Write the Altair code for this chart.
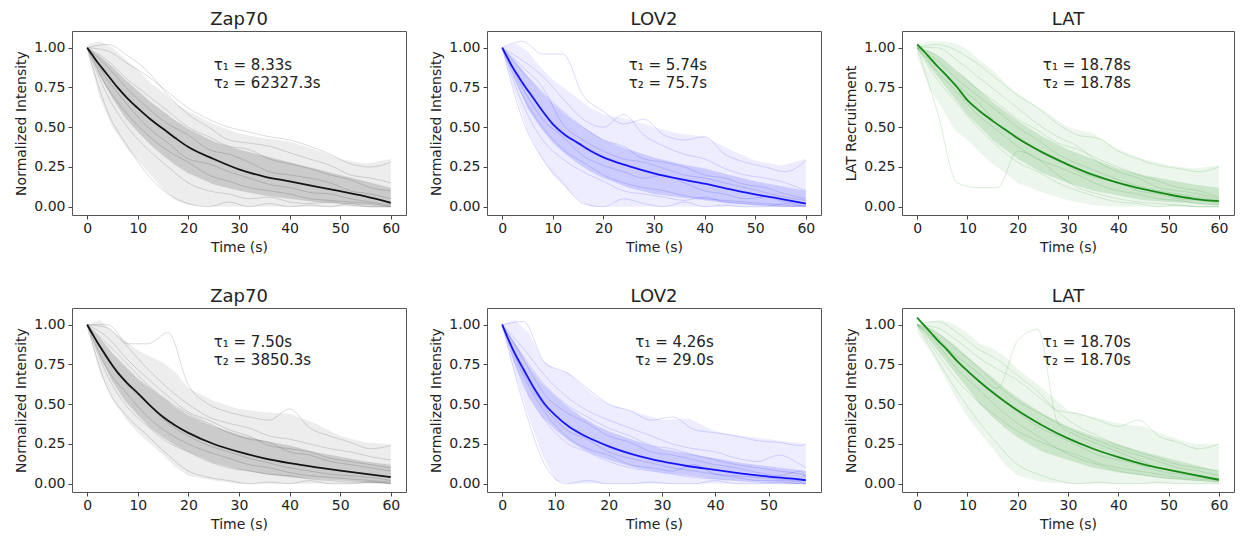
import altair as alt
import pandas as pd

FONT = "DejaVu Sans"

# ---------------- time grids ----------------
T_FIT = [0, 1, 2, 3, 4, 6, 8, 10, 12.5, 15, 17.5, 20, 25, 30, 35, 40, 45, 50, 55, 60]
T_FIT_E = [0, 1, 2, 3, 4, 6, 8, 10, 12.5, 15, 17.5, 20, 25, 30, 35, 40, 45, 50, 55, 57]
T_BAND = [0, 2.5, 5, 7.5, 10, 12.5, 15, 17.5, 20, 25, 30, 35, 40, 45, 50, 55, 60]
T_BAND_E = [0, 2.5, 5, 7.5, 10, 12.5, 15, 17.5, 20, 25, 30, 35, 40, 45, 50, 55, 57]
T_TR = [0, 4, 8, 12, 16, 20, 24, 28, 32, 36, 40, 44, 48, 52, 56, 60]
T_TR_E = [0, 4, 8, 12, 16, 20, 24, 28, 32, 36, 40, 44, 48, 52, 56, 57]

Y_TICKS = [0.0, 0.25, 0.5, 0.75, 1.0]
X_TICKS = [0, 10, 20, 30, 40, 50, 60]
X_TICKS_E = [0, 10, 20, 30, 40, 50]

TITLES = ["Zap70", "LOV2", "LAT", "Zap70", "LOV2", "LAT"]
Y_LABELS = ["Normalized Intensity", "Normalized Intensity", "LAT Recruitment",
            "Normalized Intensity", "Normalized Intensity", "Normalized Intensity"]
TAU1 = ["8.33", "5.74", "18.78", "7.50", "4.26", "18.70"]
TAU2 = ["62327.3", "75.7", "18.78", "3850.3", "29.0", "18.70"]
COLORS = ["#000000", "#0000ff", "#008000", "#000000", "#0000ff", "#008000"]

# ---------------- Panel A : Zap70 (top) ----------------
FIT_A = [1.0, 0.955, 0.91, 0.87, 0.83, 0.75, 0.68, 0.62, 0.55, 0.49, 0.43, 0.375, 0.30, 0.235, 0.19, 0.16, 0.128, 0.098, 0.065, 0.025]
OHI_A = [1.02, 1.04, 1.0, 0.93, 0.86, 0.78, 0.72, 0.65, 0.6, 0.52, 0.46, 0.43, 0.41, 0.36, 0.3, 0.27, 0.3]
OLO_A = [0.97, 0.68, 0.5, 0.38, 0.29, 0.2, 0.11, 0.04, 0.01, 0, 0, 0, 0, 0, 0, 0, 0]
IHI_A = [1.0, 0.95, 0.88, 0.8, 0.73, 0.66, 0.6, 0.54, 0.49, 0.41, 0.36, 0.32, 0.28, 0.24, 0.2, 0.16, 0.12]
ILO_A = [1.0, 0.82, 0.68, 0.56, 0.47, 0.39, 0.32, 0.26, 0.21, 0.14, 0.1, 0.07, 0.05, 0.03, 0.02, 0.01, 0.0]
TR_A = [
    [1.0, 0.98, 0.9, 0.82, 0.72, 0.62, 0.55, 0.5, 0.47, 0.44, 0.42, 0.38, 0.33, 0.27, 0.25, 0.28],
    [1.0, 0.6, 0.38, 0.2, 0.08, 0.02, 0.0, 0.03, 0.0, 0.02, 0.0, 0.01, 0.0, 0.02, 0.0, 0.0],
    [1.0, 0.92, 0.8, 0.7, 0.6, 0.5, 0.44, 0.38, 0.36, 0.3, 0.27, 0.24, 0.2, 0.17, 0.12, 0.1],
    [1.0, 0.75, 0.58, 0.45, 0.35, 0.28, 0.2, 0.16, 0.12, 0.1, 0.08, 0.05, 0.04, 0.03, 0.02, 0.0],
    [1.0, 0.88, 0.74, 0.62, 0.52, 0.45, 0.36, 0.33, 0.28, 0.22, 0.2, 0.18, 0.15, 0.1, 0.08, 0.05],
    [1.0, 0.8, 0.64, 0.5, 0.4, 0.3, 0.27, 0.22, 0.18, 0.14, 0.12, 0.09, 0.08, 0.05, 0.03, 0.01],
    [1.0, 1.02, 0.95, 0.85, 0.7, 0.58, 0.5, 0.42, 0.4, 0.38, 0.34, 0.3, 0.26, 0.2, 0.18, 0.15],
    [1.0, 0.7, 0.5, 0.36, 0.25, 0.15, 0.1, 0.08, 0.05, 0.06, 0.03, 0.02, 0.03, 0.01, 0.0, 0.0],
]

# ---------------- Panel B : LOV2 (top) ----------------
FIT_B = [1.0, 0.94, 0.88, 0.83, 0.78, 0.69, 0.60, 0.52, 0.45, 0.40, 0.35, 0.31, 0.255, 0.21, 0.175, 0.145, 0.11, 0.077, 0.05, 0.02]
OHI_B = [1.0, 1.03, 0.98, 0.88, 0.8, 0.74, 0.68, 0.62, 0.58, 0.55, 0.5, 0.46, 0.44, 0.36, 0.29, 0.26, 0.3]
OLO_B = [0.98, 0.72, 0.48, 0.32, 0.2, 0.12, 0.04, 0.0, 0, 0, 0, 0, 0, 0, 0, 0, 0]
IHI_B = [1.0, 0.92, 0.82, 0.73, 0.65, 0.58, 0.52, 0.47, 0.42, 0.36, 0.31, 0.27, 0.24, 0.2, 0.16, 0.13, 0.1]
ILO_B = [1.0, 0.8, 0.62, 0.5, 0.4, 0.33, 0.27, 0.22, 0.18, 0.12, 0.08, 0.06, 0.04, 0.02, 0.01, 0.0, 0.0]
TR_B = [
    [1.0, 1.04, 0.96, 0.96, 0.7, 0.6, 0.52, 0.55, 0.45, 0.42, 0.44, 0.33, 0.28, 0.25, 0.22, 0.29],
    [1.0, 0.55, 0.3, 0.15, 0.02, 0.0, 0.05, 0.02, 0.0, 0.03, 0.0, 0.01, 0.0, 0.0, 0.02, 0.0],
    [1.0, 0.85, 0.72, 0.6, 0.5, 0.42, 0.38, 0.3, 0.28, 0.25, 0.2, 0.18, 0.14, 0.12, 0.08, 0.05],
    [1.0, 0.7, 0.5, 0.36, 0.28, 0.2, 0.15, 0.12, 0.1, 0.07, 0.05, 0.04, 0.03, 0.02, 0.01, 0.0],
    [1.0, 0.92, 0.82, 0.68, 0.55, 0.5, 0.58, 0.45, 0.38, 0.33, 0.3, 0.24, 0.2, 0.18, 0.15, 0.1],
    [1.0, 0.75, 0.55, 0.44, 0.32, 0.26, 0.22, 0.18, 0.2, 0.15, 0.1, 0.08, 0.05, 0.06, 0.03, 0.02],
    [1.0, 0.88, 0.75, 0.52, 0.42, 0.35, 0.3, 0.28, 0.24, 0.2, 0.18, 0.15, 0.12, 0.09, 0.06, 0.04],
    [1.0, 0.65, 0.42, 0.3, 0.22, 0.16, 0.1, 0.08, 0.06, 0.04, 0.06, 0.03, 0.02, 0.01, 0.0, 0.01],
]

# ---------------- Panel C : LAT (top) ----------------
FIT_C = [1.02, 0.99, 0.955, 0.92, 0.885, 0.82, 0.75, 0.67, 0.60, 0.54, 0.485, 0.43, 0.34, 0.265, 0.20, 0.15, 0.11, 0.077, 0.05, 0.035]
OHI_C = [1.03, 1.04, 1.04, 1.03, 0.99, 0.92, 0.86, 0.78, 0.71, 0.61, 0.5, 0.46, 0.36, 0.3, 0.26, 0.24, 0.26]
OLO_C = [0.95, 0.74, 0.62, 0.48, 0.42, 0.34, 0.27, 0.21, 0.15, 0.09, 0.04, 0.01, 0, 0, 0, 0, 0]
IHI_C = [1.0, 0.98, 0.93, 0.86, 0.8, 0.73, 0.66, 0.6, 0.54, 0.44, 0.36, 0.3, 0.24, 0.2, 0.17, 0.14, 0.12]
ILO_C = [1.0, 0.88, 0.78, 0.68, 0.58, 0.5, 0.42, 0.36, 0.3, 0.21, 0.15, 0.1, 0.07, 0.04, 0.03, 0.02, 0.01]
TR_C = [
    [1.0, 1.02, 0.98, 0.9, 0.8, 0.7, 0.62, 0.52, 0.45, 0.43, 0.35, 0.3, 0.26, 0.24, 0.22, 0.25],
    [1.0, 0.6, 0.15, 0.12, 0.12, 0.35, 0.3, 0.2, 0.12, 0.08, 0.05, 0.03, 0.02, 0.01, 0.0, 0.0],
    [1.0, 0.92, 0.8, 0.7, 0.6, 0.5, 0.42, 0.33, 0.27, 0.22, 0.17, 0.13, 0.1, 0.08, 0.06, 0.04],
    [1.0, 0.8, 0.65, 0.5, 0.38, 0.28, 0.22, 0.15, 0.1, 0.06, 0.03, 0.02, 0.0, 0.01, 0.0, 0.0],
    [1.0, 0.95, 0.85, 0.74, 0.65, 0.55, 0.48, 0.4, 0.36, 0.3, 0.25, 0.2, 0.16, 0.12, 0.1, 0.06],
    [1.0, 0.85, 0.72, 0.58, 0.48, 0.38, 0.3, 0.25, 0.2, 0.14, 0.1, 0.08, 0.05, 0.04, 0.02, 0.01],
    [1.0, 1.0, 0.92, 0.82, 0.72, 0.62, 0.52, 0.44, 0.38, 0.28, 0.22, 0.18, 0.12, 0.1, 0.08, 0.05],
    [1.0, 0.88, 0.76, 0.66, 0.52, 0.44, 0.36, 0.3, 0.22, 0.18, 0.15, 0.1, 0.08, 0.05, 0.04, 0.02],
]

# ---------------- Panel D : Zap70 (bottom) ----------------
FIT_D = [1.0, 0.945, 0.89, 0.84, 0.79, 0.70, 0.63, 0.57, 0.49, 0.42, 0.365, 0.32, 0.25, 0.20, 0.16, 0.13, 0.105, 0.083, 0.062, 0.042]
OHI_D = [1.0, 1.03, 0.96, 0.9, 0.84, 0.8, 0.76, 0.7, 0.6, 0.52, 0.47, 0.45, 0.44, 0.38, 0.3, 0.26, 0.25]
OLO_D = [0.97, 0.7, 0.53, 0.41, 0.32, 0.25, 0.18, 0.1, 0.05, 0.02, 0.0, 0, 0, 0, 0, 0, 0]
IHI_D = [1.0, 0.92, 0.82, 0.74, 0.66, 0.6, 0.54, 0.48, 0.43, 0.36, 0.31, 0.27, 0.24, 0.2, 0.17, 0.14, 0.12]
ILO_D = [1.0, 0.8, 0.64, 0.52, 0.43, 0.35, 0.29, 0.24, 0.2, 0.13, 0.09, 0.06, 0.04, 0.03, 0.02, 0.01, 0.0]
TR_D = [
    [1.0, 0.98, 0.88, 0.88, 0.95, 0.62, 0.5, 0.45, 0.42, 0.4, 0.47, 0.35, 0.3, 0.26, 0.22, 0.24],
    [1.0, 0.6, 0.42, 0.3, 0.18, 0.08, 0.04, 0.02, 0.0, 0.01, 0.0, 0.02, 0.0, 0.0, 0.01, 0.0],
    [1.0, 0.88, 0.75, 0.62, 0.52, 0.44, 0.38, 0.32, 0.28, 0.26, 0.2, 0.18, 0.14, 0.12, 0.1, 0.08],
    [1.0, 0.72, 0.56, 0.42, 0.32, 0.25, 0.2, 0.16, 0.12, 0.1, 0.07, 0.05, 0.04, 0.03, 0.02, 0.01],
    [1.0, 0.92, 0.78, 0.66, 0.55, 0.45, 0.4, 0.34, 0.3, 0.24, 0.22, 0.2, 0.16, 0.14, 0.12, 0.1],
    [1.0, 0.78, 0.62, 0.5, 0.38, 0.3, 0.24, 0.2, 0.16, 0.13, 0.1, 0.08, 0.06, 0.05, 0.04, 0.02],
    [1.0, 1.0, 0.86, 0.72, 0.6, 0.5, 0.42, 0.38, 0.35, 0.3, 0.28, 0.25, 0.22, 0.2, 0.17, 0.15],
    [1.0, 0.68, 0.48, 0.36, 0.26, 0.2, 0.14, 0.1, 0.08, 0.06, 0.05, 0.03, 0.02, 0.01, 0.01, 0.0],
]

# ---------------- Panel E : LOV2 (bottom) ----------------
FIT_E = [1.0, 0.92, 0.845, 0.78, 0.72, 0.60, 0.50, 0.43, 0.36, 0.31, 0.27, 0.235, 0.18, 0.14, 0.11, 0.087, 0.064, 0.045, 0.03, 0.022]
OHI_E = [1.0, 1.03, 0.95, 0.78, 0.72, 0.7, 0.62, 0.55, 0.5, 0.45, 0.4, 0.41, 0.33, 0.3, 0.28, 0.26, 0.25]
OLO_E = [0.98, 0.68, 0.42, 0.18, 0.02, 0.0, 0, 0, 0, 0, 0, 0, 0, 0, 0, 0, 0]
IHI_E = [1.0, 0.88, 0.74, 0.63, 0.55, 0.48, 0.42, 0.37, 0.33, 0.27, 0.22, 0.19, 0.16, 0.13, 0.11, 0.09, 0.08]
ILO_E = [1.0, 0.74, 0.55, 0.42, 0.34, 0.27, 0.22, 0.18, 0.15, 0.1, 0.07, 0.05, 0.03, 0.02, 0.01, 0.0, 0.0]
TR_E = [
    [1.0, 1.02, 0.76, 0.7, 0.6, 0.5, 0.46, 0.4, 0.42, 0.34, 0.32, 0.3, 0.27, 0.26, 0.24, 0.25],
    [1.0, 0.5, 0.12, 0.0, 0.02, 0.0, 0.0, 0.01, 0.0, 0.0, 0.02, 0.0, 0.0, 0.01, 0.0, 0.0],
    [1.0, 0.8, 0.62, 0.5, 0.42, 0.35, 0.3, 0.24, 0.22, 0.18, 0.15, 0.12, 0.1, 0.08, 0.06, 0.05],
    [1.0, 0.62, 0.4, 0.26, 0.2, 0.14, 0.1, 0.08, 0.06, 0.04, 0.03, 0.02, 0.01, 0.0, 0.0, 0.0],
    [1.0, 0.85, 0.68, 0.55, 0.46, 0.4, 0.35, 0.3, 0.25, 0.22, 0.2, 0.16, 0.14, 0.18, 0.12, 0.1],
    [1.0, 0.7, 0.48, 0.34, 0.28, 0.2, 0.16, 0.13, 0.1, 0.08, 0.06, 0.05, 0.04, 0.03, 0.02, 0.02],
    [1.0, 0.78, 0.56, 0.45, 0.38, 0.3, 0.26, 0.2, 0.18, 0.15, 0.12, 0.1, 0.07, 0.05, 0.08, 0.04],
    [1.0, 0.68, 0.45, 0.3, 0.22, 0.18, 0.12, 0.1, 0.08, 0.12, 0.06, 0.04, 0.02, 0.02, 0.01, 0.0],
]

# ---------------- Panel F : LAT (bottom) ----------------
FIT_F = [1.045, 1.01, 0.975, 0.94, 0.905, 0.84, 0.77, 0.71, 0.64, 0.575, 0.515, 0.46, 0.365, 0.285, 0.22, 0.167, 0.122, 0.087, 0.055, 0.025]
OHI_F = [1.0, 1.02, 1.03, 1.0, 0.95, 0.88, 0.85, 0.8, 0.72, 0.6, 0.46, 0.42, 0.38, 0.36, 0.3, 0.25, 0.25]
OLO_F = [0.95, 0.84, 0.7, 0.55, 0.42, 0.32, 0.22, 0.12, 0.05, 0.01, 0.0, 0, 0, 0, 0, 0, 0]
IHI_F = [1.0, 0.98, 0.93, 0.87, 0.8, 0.73, 0.67, 0.6, 0.54, 0.44, 0.36, 0.3, 0.25, 0.2, 0.16, 0.12, 0.08]
ILO_F = [1.0, 0.9, 0.8, 0.7, 0.6, 0.5, 0.42, 0.35, 0.29, 0.2, 0.15, 0.1, 0.07, 0.05, 0.03, 0.02, 0.01]
TR_F = [
    [1.0, 1.02, 0.95, 0.85, 0.78, 0.68, 0.58, 0.46, 0.44, 0.4, 0.36, 0.4, 0.3, 0.26, 0.22, 0.25],
    [1.0, 0.78, 0.58, 0.4, 0.25, 0.12, 0.06, 0.02, 0.0, 0.01, 0.0, 0.0, 0.01, 0.0, 0.0, 0.0],
    [1.0, 0.95, 0.84, 0.74, 0.62, 0.52, 0.45, 0.38, 0.32, 0.27, 0.22, 0.18, 0.14, 0.1, 0.08, 0.05],
    [1.0, 0.88, 0.72, 0.6, 0.48, 0.38, 0.3, 0.22, 0.16, 0.12, 0.08, 0.06, 0.04, 0.03, 0.02, 0.01],
    [1.0, 0.98, 0.9, 0.8, 0.72, 0.65, 0.55, 0.45, 0.36, 0.3, 0.24, 0.2, 0.16, 0.12, 0.1, 0.08],
    [1.0, 0.92, 0.78, 0.65, 0.55, 0.45, 0.36, 0.3, 0.24, 0.18, 0.15, 0.12, 0.08, 0.06, 0.04, 0.02],
    [1.0, 0.9, 0.8, 0.7, 0.6, 0.9, 0.97, 0.38, 0.3, 0.25, 0.2, 0.15, 0.1, 0.08, 0.05, 0.03],
    [1.0, 0.82, 0.65, 0.52, 0.42, 0.33, 0.27, 0.22, 0.18, 0.13, 0.1, 0.08, 0.06, 0.04, 0.03, 0.02],
]

TEXT_X = 25
TEXT_Y = [0.89, 0.78]

Y_DOMAIN = [-0.052, 1.105]
X_DOMAIN = [-3, 63]
X_DOMAIN_E = [-2.85, 59.85]


def panel(i, t_fit, fit, t_band, olo, ohi, ilo, ihi, t_tr, traces, xdom, xticks, width):
    color = COLORS[i]
    xs = alt.Scale(domain=xdom, nice=False, zero=False)
    ys = alt.Scale(domain=Y_DOMAIN, nice=False, zero=False)
    xax = alt.Axis(values=xticks, format="d", title="Time (s)", labelPadding=2)
    yax = alt.Axis(values=Y_TICKS, format=".2f", title=Y_LABELS[i])

    band = pd.DataFrame({"t": t_band, "olo": olo, "ohi": ohi, "ilo": ilo, "ihi": ihi})
    rows = []
    for k, tr in enumerate(traces):
        for t, v in zip(t_tr, tr):
            rows.append({"t": t, "v": v, "id": k})
    trdf = pd.DataFrame(rows)
    fitdf = pd.DataFrame({"t": t_fit, "v": fit})
    txt = pd.DataFrame({"t": [TEXT_X, TEXT_X], "v": TEXT_Y,
                        "label": [f"τ₁ = {TAU1[i]}s", f"τ₂ = {TAU2[i]}s"]})

    outer = alt.Chart(band).mark_area(color=color, opacity=0.07, clip=True).encode(
        x=alt.X("t:Q", scale=xs, axis=xax), y=alt.Y("olo:Q", scale=ys, axis=yax), y2="ohi:Q")
    inner = alt.Chart(band).mark_area(color=color, opacity=0.14, clip=True).encode(
        x=alt.X("t:Q", scale=xs, axis=xax), y=alt.Y("ilo:Q", scale=ys, axis=yax), y2="ihi:Q")
    lines = alt.Chart(trdf).mark_line(color=color, opacity=0.14, strokeWidth=1,
                                      interpolate="monotone", clip=True).encode(
        x=alt.X("t:Q", scale=xs, axis=xax), y=alt.Y("v:Q", scale=ys, axis=yax), detail="id:N")
    fitl = alt.Chart(fitdf).mark_line(color=color, strokeWidth=1.8, opacity=0.9,
                                      interpolate="monotone", clip=True).encode(
        x=alt.X("t:Q", scale=xs, axis=xax), y=alt.Y("v:Q", scale=ys, axis=yax))
    text = alt.Chart(txt).mark_text(align="left", baseline="middle", fontSize=15,
                                    color="#222222", font=FONT).encode(
        x=alt.X("t:Q", scale=xs, axis=xax), y=alt.Y("v:Q", scale=ys, axis=yax), text="label:N")
    return alt.layer(outer, inner, lines, fitl, text).properties(
        width=width, height=184, title=TITLES[i])


pA = panel(0, T_FIT, FIT_A, T_BAND, OLO_A, OHI_A, ILO_A, IHI_A, T_TR, TR_A, X_DOMAIN, X_TICKS, 334)
pB = panel(1, T_FIT, FIT_B, T_BAND, OLO_B, OHI_B, ILO_B, IHI_B, T_TR, TR_B, X_DOMAIN, X_TICKS, 334)
pC = panel(2, T_FIT, FIT_C, T_BAND, OLO_C, OHI_C, ILO_C, IHI_C, T_TR, TR_C, X_DOMAIN, X_TICKS, 332)
pD = panel(3, T_FIT, FIT_D, T_BAND, OLO_D, OHI_D, ILO_D, IHI_D, T_TR, TR_D, X_DOMAIN, X_TICKS, 334)
pE = panel(4, T_FIT_E, FIT_E, T_BAND_E, OLO_E, OHI_E, ILO_E, IHI_E, T_TR_E, TR_E, X_DOMAIN_E, X_TICKS_E, 334)
pF = panel(5, T_FIT, FIT_F, T_BAND, OLO_F, OHI_F, ILO_F, IHI_F, T_TR, TR_F, X_DOMAIN, X_TICKS, 332)

row1 = alt.hconcat(pA, pB, pC, spacing=22)
row2 = alt.hconcat(pD, pE, pF, spacing=22)

chart = alt.vconcat(row1, row2, spacing=32).properties(
    padding={"left": 6, "top": 2, "right": 0, "bottom": 0}
).configure(font=FONT).configure_view(
    stroke="#555555", strokeWidth=1
).configure_axis(
    grid=False, domain=False, tickColor="#444444", tickSize=4, tickWidth=1,
    labelFontSize=14, labelColor="#222222", labelPadding=3, labelFont=FONT,
    titleFontSize=14, titleFontWeight="normal", titleColor="#222222", titleFont=FONT,
    titlePadding=5
).configure_title(
    fontSize=18, fontWeight="normal", color="#222222", font=FONT, offset=2
)

chart.save("out.html", embed_options={"renderer": "svg", "actions": False})
